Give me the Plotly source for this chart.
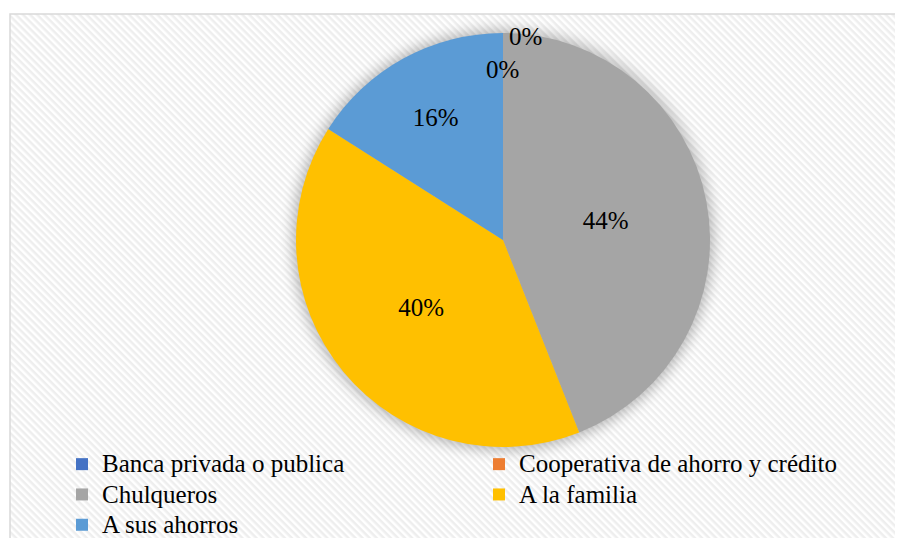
import plotly.graph_objects as go
import base64

categories = ["Banca privada o publica", "Cooperativa de ahorro y crédito",
              "Chulqueros", "A la familia", "A sus ahorros"]
values = [0, 0, 44, 40, 16]
colors = ["#4472C4", "#ED7D31", "#A5A5A5", "#FFC000", "#5B9BD5"]

OFF = 8  # default page body margin
W, H = 903 - OFF, 538 - OFF
FONT = "Liberation Serif, Times New Roman, serif"


def px(x):
    return (x - OFF) / W


def py(y):
    return 1 - (y - OFF) / H


total = sum(values)
labels_txt = [f"{round(v / total * 100)}%" if v > 0 else "" for v in values]
# legend text shown larger than the legend's row spacing font
legend_labels = [f'<span style="font-size:25px">{c}</span>' for c in categories]

# background hatch + soft pie shadow as an SVG image
bx, by = 10 - OFF, 14 - OFF
bw, bh = W - bx, H - by
cx, cy, r = 503 - OFF - bx, 240 - OFF - by, 207
svg = f'''<svg xmlns="http://www.w3.org/2000/svg" width="{bw}" height="{bh}" viewBox="0 0 {bw} {bh}" preserveAspectRatio="none">
<defs>
<pattern id="p" width="5" height="5" patternUnits="userSpaceOnUse" patternTransform="rotate(45)">
<rect x="0" y="0" width="5" height="5" fill="#ffffff"/>
<rect x="0" y="0" width="5" height="2.5" fill="#eeeeee"/>
</pattern>
<filter id="f" x="-20%" y="-20%" width="140%" height="140%"><feGaussianBlur stdDeviation="7"/></filter>
</defs>
<rect width="{bw}" height="{bh}" fill="url(#p)"/>
<circle cx="{cx}" cy="{cy}" r="{r + 3}" fill="#000" opacity="0.28" filter="url(#f)"/>
</svg>'''
src = "data:image/svg+xml;base64," + base64.b64encode(svg.encode()).decode()

fig = go.Figure(go.Pie(
    labels=legend_labels, values=values, sort=False, direction="clockwise",
    rotation=0, marker=dict(colors=colors),
    text=labels_txt, textinfo="text", textposition="inside",
    insidetextorientation="horizontal",
    textfont=dict(family=FONT, size=25, color="#000000"),
    domain=dict(x=[px(296), px(710)], y=[py(447), py(33)]),
    customdata=categories,
    hovertemplate="%{customdata}: %{percent}<extra></extra>",
))

# labels for zero-value slices
zero_pos = [(525, 37), (502, 70)]
for (zx, zy), v in zip(zero_pos, values[:2]):
    fig.add_annotation(x=px(zx), y=py(zy), xref="paper", yref="paper",
                       xanchor="center", yanchor="middle",
                       text=f"{v}%", showarrow=False,
                       font=dict(family=FONT, size=25, color="#000000"))

fig.add_layout_image(dict(source=src, xref="paper", yref="paper",
                          x=bx / W, y=1 - by / H, sizex=bw / W, sizey=bh / H,
                          xanchor="left", yanchor="top", sizing="stretch",
                          layer="below"))
fig.add_shape(type="rect", xref="paper", yref="paper",
              x0=bx / W, y0=-0.3, x1=1.3, y1=1 - by / H,
              line=dict(color="#d9d9d9", width=1.5), fillcolor="rgba(0,0,0,0)")

fig.update_layout(
    width=W, height=H, margin=dict(l=0, r=0, t=0, b=0, autoexpand=False),
    paper_bgcolor="#ffffff", plot_bgcolor="#ffffff",
    showlegend=True,
    legend=dict(orientation="h", x=px(62), xanchor="left", y=py(444),
                yanchor="top", entrywidth=372, entrywidthmode="pixels",
                font=dict(family=FONT, size=21, color="#000000"),
                bgcolor="rgba(0,0,0,0)", tracegroupgap=0, traceorder="normal"),
)

fig.write_html("out.html")
